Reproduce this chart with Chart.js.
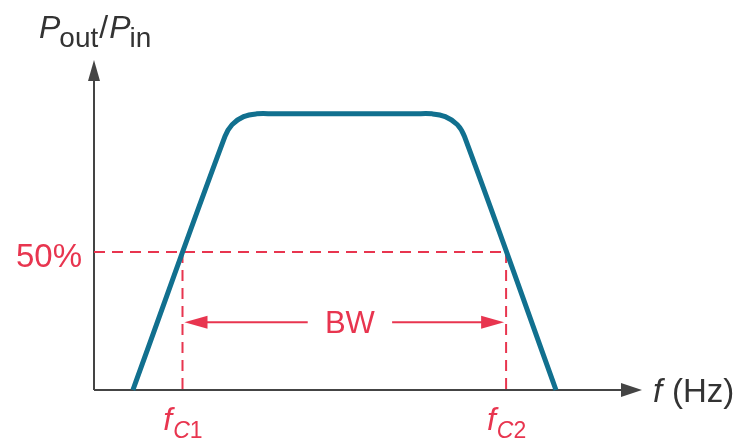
<!DOCTYPE html>
<html>
<head>
<meta charset="utf-8">
<script src="https://cdn.jsdelivr.net/npm/chart.js@4/dist/chart.umd.min.js"></script>
<style>
    html, body { margin: 0; padding: 0; background: #fff; }
    #wrap { width: 740px; height: 443px; }
</style>
</head>
<body>
<div id="wrap"><canvas id="bw-chart" width="740" height="443"></canvas></div>
<script>
// Band-pass response, x in arbitrary frequency units, y in % of Pout/Pin
const responseX = [7.1, 23.9, 25.2, 27.3, 29.7, 33.0, 58.4, 61.7, 64.1, 66.3, 67.6, 84.3];
const responseY = [0, 91.8, 96.1, 99.0, 100, 100, 100, 100, 99.0, 96.1, 91.8, 0];

const halfPower = 50;       // 50% level
const fc1 = 16.15;          // lower cutoff
const fc2 = 75.2;           // upper cutoff
const bwLevel = 24.5;       // height of the BW arrow
const bwLabelX = 46.7;      // centre of the "BW" label
const bwGap = 7.7;          // half-width of the gap around the label

const TEAL = '#11708f';
const RED = '#e8354f';
const AXIS = '#444444';
const FONT = '"Liberation Sans", Arial, sans-serif';

function pts(xs, ys) {
    return xs.map((x, i) => ({ x: x, y: ys[i] }));
}

const dashed = {
    borderColor: RED,
    borderWidth: 2,
    borderDash: [11, 7],
    pointRadius: 0,
    tension: 0,
    order: 2
};

const solidRed = {
    borderColor: RED,
    borderWidth: 2,
    pointRadius: 0,
    tension: 0,
    order: 2
};

// axes with arrow heads, arrow heads on the BW shafts, and all text
const decorPlugin = {
    id: 'decor',
    beforeDatasetsDraw(chart) {
        const ctx = chart.ctx;
        const a = chart.chartArea;
        ctx.save();
        ctx.strokeStyle = AXIS;
        ctx.fillStyle = AXIS;
        ctx.lineWidth = 2;
        ctx.beginPath();
        ctx.moveTo(a.left, a.bottom);
        ctx.lineTo(a.left, a.top + 18);
        ctx.moveTo(a.left, a.bottom);
        ctx.lineTo(a.right - 18, a.bottom);
        ctx.stroke();
        // y arrow
        ctx.beginPath();
        ctx.moveTo(a.left, a.top);
        ctx.lineTo(a.left - 6, a.top + 21);
        ctx.lineTo(a.left + 6, a.top + 21);
        ctx.closePath();
        ctx.fill();
        // x arrow
        ctx.beginPath();
        ctx.moveTo(a.right, a.bottom);
        ctx.lineTo(a.right - 21, a.bottom - 7);
        ctx.lineTo(a.right - 21, a.bottom + 7);
        ctx.closePath();
        ctx.fill();
        ctx.restore();
    },
    afterDatasetsDraw(chart) {
        const ctx = chart.ctx;
        const a = chart.chartArea;
        const xs = chart.scales.x;
        const ys = chart.scales.y;
        ctx.save();

        // BW arrow heads
        const by = ys.getPixelForValue(bwLevel);
        const l = xs.getPixelForValue(fc1) + 2;
        const r = xs.getPixelForValue(fc2) - 2;
        ctx.fillStyle = RED;
        ctx.beginPath();
        ctx.moveTo(l, by);
        ctx.lineTo(l + 23, by - 6.5);
        ctx.lineTo(l + 23, by + 6.5);
        ctx.closePath();
        ctx.fill();
        ctx.beginPath();
        ctx.moveTo(r, by);
        ctx.lineTo(r - 23, by - 6.5);
        ctx.lineTo(r - 23, by + 6.5);
        ctx.closePath();
        ctx.fill();

        // BW label
        ctx.textAlign = 'center';
        ctx.textBaseline = 'alphabetic';
        ctx.font = '31px ' + FONT;
        ctx.fillText('BW', xs.getPixelForValue(bwLabelX), by + 11);

        // 50% label
        ctx.textAlign = 'right';
        ctx.font = '33px ' + FONT;
        ctx.fillText(halfPower + '%', a.left - 12, ys.getPixelForValue(halfPower) + 15);

        // cutoff labels
        drawSub(ctx, 'f', 'C1', xs.getPixelForValue(fc1), a.bottom + 40, RED);
        drawSub(ctx, 'f', 'C2', xs.getPixelForValue(fc2), a.bottom + 40, RED);

        // x-axis title
        ctx.textAlign = 'left';
        ctx.fillStyle = '#333';
        ctx.font = 'italic 33px ' + FONT;
        ctx.fillText('f', a.right + 11, a.bottom + 12);
        ctx.font = '33px ' + FONT;
        ctx.fillText('(Hz)', a.right + 30, a.bottom + 12);

        // y-axis title  Pout/Pin
        let x = 39;
        const base = 38;
        const parts = [
            ['italic 32px ', 'P', 0],
            ['28px ', 'out', 9],
            ['32px ', '/', 0],
            ['italic 32px ', 'P', 0],
            ['28px ', 'in', 9]
        ];
        parts.forEach(p => {
            ctx.font = p[0] + FONT;
            ctx.fillText(p[1], x, base + p[2]);
            x += ctx.measureText(p[1]).width + (p[1] === 'P' ? -1 : 1);
        });
        ctx.restore();
    }
};

// italic main letter with an italic subscript, centred on cx
function drawSub(ctx, main, sub, cx, baseline, color) {
    ctx.fillStyle = color;
    ctx.textAlign = 'left';
    ctx.font = 'italic 32px ' + FONT;
    const w1 = ctx.measureText(main).width;
    ctx.font = 'italic 23px ' + FONT;
    const wC = ctx.measureText(sub[0]).width;
    ctx.font = '23px ' + FONT;
    const wD = ctx.measureText(sub.slice(1)).width;
    let x = cx - (w1 + wC + wD) / 2;
    ctx.font = 'italic 32px ' + FONT;
    ctx.fillText(main, x, baseline);
    x += w1 + 1;
    ctx.font = 'italic 23px ' + FONT;
    ctx.fillText(sub[0], x, baseline + 8);
    x += wC;
    ctx.font = '23px ' + FONT;
    ctx.fillText(sub.slice(1), x, baseline + 8);
}

new Chart(document.getElementById('bw-chart'), {
    type: 'line',
    data: {
        datasets: [
            {
                label: 'Pout/Pin',
                data: pts(responseX, responseY),
                borderColor: TEAL,
                borderWidth: 5,
                pointRadius: 0,
                tension: 0.4,
                borderCapStyle: 'butt',
                borderJoinStyle: 'round',
                clip: false,
                order: 0
            },
            Object.assign({ label: '50%', data: pts([0, fc2], [halfPower, halfPower]) }, dashed),
            Object.assign({ label: 'fc1', data: pts([fc1, fc1], [halfPower, 0]) }, dashed),
            Object.assign({ label: 'fc2', data: pts([fc2, fc2], [halfPower, 0]) }, dashed),
            Object.assign({ label: 'BW left', data: pts([fc1 + 2, bwLabelX - bwGap], [bwLevel, bwLevel]) }, solidRed),
            Object.assign({ label: 'BW right', data: pts([bwLabelX + bwGap, fc2 - 2], [bwLevel, bwLevel]) }, solidRed)
        ]
    },
    options: {
        responsive: false,
        animation: false,
        layout: { padding: { left: 94, right: 98, top: 60, bottom: 53 } },
        plugins: {
            legend: { display: false },
            tooltip: { enabled: false }
        },
        scales: {
            x: { type: 'linear', min: 0, max: 100, display: false },
            y: { type: 'linear', min: 0, max: 119.5, display: false }
        }
    },
    plugins: [decorPlugin]
});
</script>
</body>
</html>
